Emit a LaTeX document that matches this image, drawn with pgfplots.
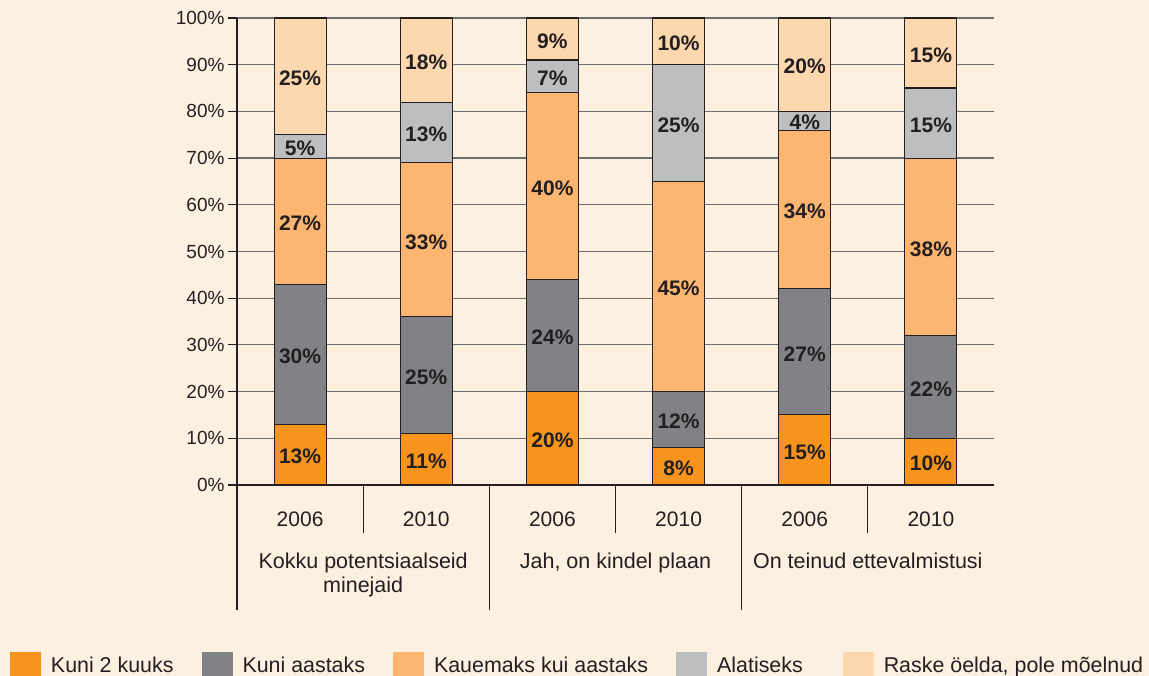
\documentclass[border=0pt]{standalone}
\usepackage{pgfplots}
\pgfplotsset{compat=1.18}
\usepackage{pgfplotstable}
\usepackage{fontspec}
\setmainfont{Liberation Sans}
\definecolor{bg}{HTML}{FEF0E1}
\definecolor{cA}{HTML}{F7941D}
\definecolor{cB}{HTML}{808285}
\definecolor{cC}{HTML}{FDB572}
\definecolor{cD}{HTML}{BCBEC0}
\definecolor{cE}{HTML}{FDD7AE}
\definecolor{txt}{HTML}{231F20}
\definecolor{gridc}{HTML}{6D6E71}

\pgfplotstableread{
x a b c d e
0 13 30 27 5 25
1 11 25 33 13 18
2 20 24 40 7 9
3 8 12 45 25 10
4 15 27 34 4 20
5 10 22 38 15 15
}\data

\pgfplotstableread{
x y lab
0 6.5 13
0 28 30
0 56.5 27
0 72.5 5
0 87.5 25
1 5.5 11
1 23.5 25
1 52.5 33
1 75.5 13
1 91 18
2 10 20
2 32 24
2 64 40
2 87.5 7
2 95.5 9
3 4 8
3 14 12
3 42.5 45
3 77.5 25
3 95 10
4 7.5 15
4 28.5 27
4 59 34
4 78 4
4 90 20
5 5 10
5 21 22
5 51 38
5 77.5 15
5 92.5 15
}\labels

\pgfplotsset{legimg/.style={legend image code/.code={\fill[##1, draw=none] (0pt,-16.5pt) rectangle (31pt,13.5pt);}}}

\begin{document}
\begin{tikzpicture}[x=1pt,y=1pt]
\path[use as bounding box, fill=bg] (0,0) rectangle (1149,676);
\clip (0,0) rectangle (1149,676);
\begin{axis}[
  at={(237pt,191pt)}, anchor=south west,
  scale only axis, width=757pt, height=467pt,
  xmin=-0.5, xmax=5.5, ymin=0, ymax=100,
  ybar stacked, bar width=52pt,
  axis x line*=bottom, axis y line*=left,
  axis line style={txt, line width=1.2pt, -},
  ytick={0,10,...,100},
  yticklabel={\pgfmathprintnumber{\tick}\%},
  xtick={0,...,5},
  xticklabels={2006,2010,2006,2010,2006,2010},
  xtick style={draw=none},
  ytick style={txt, line width=1.1pt},
  major tick length=9pt,
  tick align=outside,
  ymajorgrids, grid style={gridc, line width=1.2pt},
  yticklabel style={font=\fontsize{19}{22}\selectfont, text=txt},
  xticklabel style={font=\fontsize{21}{24}\selectfont, text=txt, anchor=base, yshift=-33pt},
  /pgf/number format/assume math mode=true,
  clip=false,
  legend columns=5,
  legend style={at={(0,0)}, anchor=west, xshift=-227pt, yshift=-182pt,
    draw=none, fill=none, inner sep=0pt, outer sep=0pt,
    nodes={inner sep=0pt, text=txt, font=\fontsize{21.4}{24}\selectfont},
    /tikz/every odd column/.append style={column sep=10pt},
    /tikz/every even column/.append style={column sep=28pt}},
]
\addplot[fill=cA, draw=txt, line width=1.1pt, legimg] table[x=x,y=a]{\data};
\addplot[fill=cB, draw=txt, line width=1.1pt, legimg] table[x=x,y=b]{\data};
\addplot[fill=cC, draw=txt, line width=1.1pt, legimg] table[x=x,y=c]{\data};
\addplot[fill=cD, draw=txt, line width=1.1pt, legimg] table[x=x,y=d]{\data};
\addplot[fill=cE, draw=txt, line width=1.1pt, legimg] table[x=x,y=e]{\data};
\legend{Kuni 2 kuuks, Kuni aastaks, Kauemaks kui aastaks, Alatiseks\hspace*{12pt}, {Raske öelda, pole mõelnud}}
\draw[txt, line width=1.1pt] (axis cs:-0.5,0) -- ([yshift=-125pt]axis cs:-0.5,0);
\draw[txt, line width=1.1pt] (axis cs:1.5,0) -- ([yshift=-125pt]axis cs:1.5,0);
\draw[txt, line width=1.1pt] (axis cs:3.5,0) -- ([yshift=-125pt]axis cs:3.5,0);
\draw[txt, line width=1.1pt] (axis cs:0.5,0) -- ([yshift=-48pt]axis cs:0.5,0);
\draw[txt, line width=1.1pt] (axis cs:2.5,0) -- ([yshift=-48pt]axis cs:2.5,0);
\draw[txt, line width=1.1pt] (axis cs:4.5,0) -- ([yshift=-48pt]axis cs:4.5,0);
\node[anchor=base, text=txt, font=\fontsize{21.5}{24}\selectfont, yshift=-84pt] at (axis cs:0.5,0) {Kokku potentsiaalseid};
\node[anchor=base, text=txt, font=\fontsize{21.5}{24}\selectfont, yshift=-108pt] at (axis cs:0.5,0) {minejaid};
\node[anchor=base, text=txt, font=\fontsize{21.5}{24}\selectfont, yshift=-84pt] at (axis cs:2.5,0) {Jah, on kindel plaan};
\node[anchor=base, text=txt, font=\fontsize{21.5}{24}\selectfont, yshift=-84pt] at (axis cs:4.5,0) {On teinud ettevalmistusi};
\end{axis}
\begin{axis}[
  at={(237pt,191pt)}, anchor=south west,
  scale only axis, width=757pt, height=467pt,
  xmin=-0.5, xmax=5.5, ymin=0, ymax=100,
  hide axis, clip=false,
]
\addplot[only marks, mark=text, text mark={}, nodes near coords={\pgfplotspointmeta\%},
  point meta=explicit symbolic,
  nodes near coords style={anchor=center, yshift=-2pt, text=txt, font=\bfseries\fontsize{21}{24}\selectfont}]
  table[x=x,y=y,meta=lab]{\labels};
\end{axis}
\end{tikzpicture}
\end{document}
